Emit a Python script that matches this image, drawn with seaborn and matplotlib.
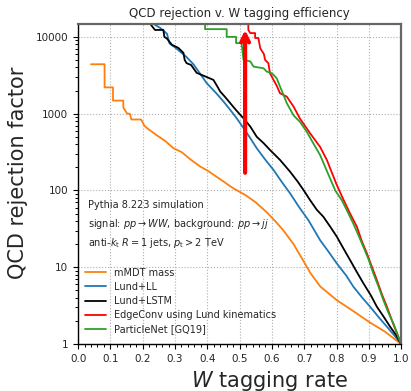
import numpy as np
import pandas as pd
import matplotlib
matplotlib.use("Agg")
import matplotlib.pyplot as plt
import matplotlib.ticker as mticker
import seaborn as sns

# Signal efficiency (W tagging rate) and QCD rejection factor for each tagger
eff_mmdt = [0.04, 0.082, 0.082, 0.108, 0.108, 0.14, 0.14, 0.152, 0.16, 0.165, 0.195, 0.205,
            0.215, 0.243, 0.27, 0.295, 0.321, 0.347, 0.378, 0.40, 0.44, 0.48, 0.52, 0.55,
            0.584, 0.61, 0.636, 0.667, 0.698, 0.72, 0.75, 0.80, 0.86, 0.90, 0.95, 1.0]
rej_mmdt = [4400, 4400, 2200, 2200, 1480, 1480, 1200, 1000, 1000, 840, 840, 700,
            640, 525, 440, 355, 315, 255, 205, 182, 140, 107, 86, 70,
            52, 40, 30, 20, 12, 8.3, 5.6, 3.75, 2.55, 1.95, 1.45, 1.0]

eff_ll = [0.215, 0.233, 0.255, 0.275, 0.283, 0.30, 0.316, 0.335, 0.357, 0.378, 0.398, 0.425,
          0.45, 0.471, 0.491, 0.512, 0.533, 0.553, 0.58, 0.605, 0.63, 0.656, 0.685, 0.713,
          0.749, 0.775, 0.801, 0.83, 0.852, 0.88, 0.904, 0.93, 0.956, 0.98, 1.0]
rej_ll = [17000, 14800, 13000, 11000, 8200, 7300, 6400, 5500, 4400, 3300, 2500, 1900,
          1440, 1120, 870, 650, 480, 355, 250, 185, 130, 92, 60, 41,
          22.6, 16, 11.2, 7.8, 5.6, 4.0, 3.06, 2.25, 1.68, 1.28, 1.0]

eff_lstm = [0.215, 0.223, 0.238, 0.238, 0.264, 0.267, 0.275, 0.29, 0.31, 0.326, 0.33, 0.336,
            0.35, 0.367, 0.39, 0.419, 0.43, 0.44, 0.455, 0.471, 0.49, 0.512, 0.533, 0.553,
            0.575, 0.594, 0.625, 0.656, 0.68, 0.698, 0.718, 0.739, 0.759, 0.78, 0.801, 0.82,
            0.842, 0.862, 0.883, 0.905, 0.925, 0.945, 0.966, 0.985, 1.0]
rej_lstm = [17000, 14800, 12300, 12300, 12300, 10000, 9500, 7900, 7200, 6200, 5000, 4540,
            4300, 3400, 3100, 2750, 2300, 1940, 1650, 1370, 1100, 870, 680, 500,
            410, 337, 250, 176, 130, 101, 75, 56, 45.6, 34, 25, 18,
            12.4, 8.8, 6.2, 4.4, 3.06, 2.3, 1.68, 1.3, 1.0]

eff_edge = [0.527, 0.527, 0.533, 0.548, 0.548, 0.558, 0.564, 0.57, 0.575, 0.579, 0.589, 0.594,
            0.605, 0.615, 0.625, 0.646, 0.667, 0.687, 0.718, 0.749, 0.77, 0.80, 0.822, 0.842,
            0.863, 0.878, 0.894, 0.91, 0.925, 0.94, 0.956, 0.972, 0.987, 1.0]
rej_edge = [17000, 12300, 11200, 11200, 9660, 9660, 7080, 6460, 6000, 5000, 4540, 3360,
            2750, 2300, 1845, 1667, 1236, 860, 556, 370, 250, 120, 75, 50,
            33.7, 22, 15.2, 10, 6.8, 4.5, 3.06, 2.0, 1.38, 1.0]

eff_pnet = [0.393, 0.393, 0.46, 0.46, 0.489, 0.489, 0.506, 0.512, 0.533, 0.543, 0.574, 0.584,
            0.60, 0.615, 0.625, 0.636, 0.646, 0.667, 0.687, 0.708, 0.728, 0.749, 0.77, 0.796,
            0.816, 0.835, 0.852, 0.868, 0.883, 0.9, 0.914, 0.93, 0.945, 0.96, 0.976, 0.99, 1.0]
rej_pnet = [17000, 12600, 12600, 10000, 10000, 8300, 8300, 5000, 4800, 4100, 3900, 3530,
            3360, 2880, 2260, 1750, 1370, 950, 780, 580, 412, 290, 180, 100,
            75, 52, 37, 26, 18.5, 12.4, 8.3, 5.6, 3.74, 2.6, 1.86, 1.3, 1.0]

labels = ["mMDT mass", "Lund+LL", "Lund+LSTM", "EdgeConv using Lund kinematics", "ParticleNet [GQ19]"]
colors = ["#ff7f0e", "#1f77b4", "black", "red", "#2ca02c"]

# Working point marked by the arrow
arrow_eff = 0.517
arrow_rej = [170, 12300]

sns.set_style("ticks")
plt.rcParams["font.family"] = ["DejaVu Sans"]

fig = plt.figure(figsize=(4.11, 3.91), dpi=100)
ax = fig.add_axes([0.190, 0.120, 0.786, 0.8186])

series = [(eff_mmdt, rej_mmdt), (eff_ll, rej_ll), (eff_lstm, rej_lstm),
          (eff_edge, rej_edge), (eff_pnet, rej_pnet)]
for (e, r), lab, col in zip(series, labels, colors):
    df = pd.DataFrame({"eff": e, "rej": r})
    sns.lineplot(data=df, x="eff", y="rej", ax=ax, sort=False, estimator=None,
                 color=col, lw=1.3, label=lab)

ax.annotate("", xy=(arrow_eff, arrow_rej[1]), xytext=(arrow_eff, arrow_rej[0]),
            arrowprops=dict(arrowstyle="->", color="red", lw=3, mutation_scale=14,
                            shrinkA=0, shrinkB=0))

ax.set_yscale("log")
ax.set_xlim(0, 1)
ax.set_ylim(1, 14700)
ax.xaxis.set_major_locator(mticker.MultipleLocator(0.1))
ax.xaxis.set_minor_locator(mticker.MultipleLocator(0.02))
ax.yaxis.set_major_locator(mticker.LogLocator(base=10))
ax.yaxis.set_major_formatter(mticker.FuncFormatter(lambda v, p: f"{int(round(v))}"))
ax.tick_params(which="both", direction="out", labelsize=7.5, color="black")
ax.tick_params(which="major", length=3.5, width=0.8)
ax.tick_params(which="minor", length=2, width=0.7)
ax.grid(True, which="major", ls=":", color="#b0b0b0", lw=0.8)

for side in ["left", "bottom"]:
    ax.spines[side].set_color("black")
    ax.spines[side].set_linewidth(1.0)
for side in ["top", "right"]:
    ax.spines[side].set_color("#666666")
    ax.spines[side].set_linewidth(1.6)

ax.set_title("QCD rejection v. W tagging efficiency", fontsize=8.5, pad=5)
ax.set_xlabel("$W$ tagging rate", fontsize=15)
ax.set_ylabel("QCD rejection factor", fontsize=15)
ax.xaxis.set_label_coords(0.593, -0.078)
ax.yaxis.set_label_coords(-0.155, 0.534)

txt_kw = dict(transform=ax.transAxes, fontsize=7, va="center", ha="left")
ax.text(0.031, 0.434, "Pythia 8.223 simulation", **txt_kw)
ax.text(0.031, 0.375, r"signal: $pp \to WW$, background: $pp \to jj$", **txt_kw)
ax.text(0.031, 0.316, r"anti-$k_\mathrm{t}$ $R=1$ jets, $p_\mathrm{t} > 2$ TeV", **txt_kw)

ax.legend(loc="lower left", bbox_to_anchor=(0.0, 0.01), frameon=False, fontsize=7,
          handlelength=2.2, labelspacing=0.42, borderaxespad=0.3)

fig.savefig("out.png", dpi=100)
